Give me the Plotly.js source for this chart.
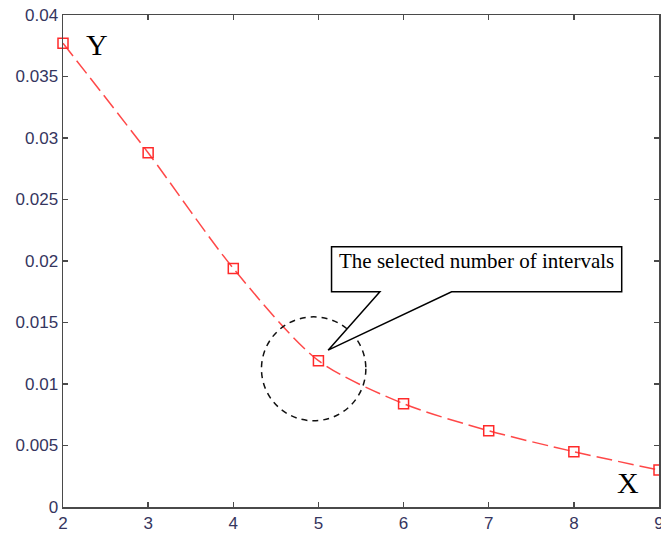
<!DOCTYPE html>
<html>
<head>
<meta charset="utf-8">
<script src="https://cdn.plot.ly/plotly-3.0.1.min.js"></script>
<style>html,body{margin:0;padding:0;background:#fff;}#chart{width:661px;height:536px;}</style>
</head>
<body>
<div id="chart"></div>
<script>
// Data
const intervals = [2, 3, 4, 5, 6, 7, 8, 9];
const values = [0.0377, 0.0288, 0.0194, 0.0119, 0.0084, 0.0062, 0.0045, 0.0030];
const yTickVals = [0, 0.005, 0.01, 0.015, 0.02, 0.025, 0.03, 0.035, 0.04];
const yTickText = ["0", "0.005", "0.01", "0.015", "0.02", "0.025", "0.03", "0.035", "0.04"];
const xTickVals = [2, 3, 4, 5, 6, 7, 8, 9];
const xTickText = ["2", "3", "4", "5", "6", "7", "8", "9"];
const calloutText = "The selected number of intervals";

const trace = {
  x: intervals, y: values, type: 'scatter', mode: 'lines+markers',
  line: {color: 'rgba(255,40,40,0.85)', width: 1.5, dash: '16px,6px', shape: 'spline', smoothing: 0.8},
  marker: {symbol: 'square-open', size: 10, color: '#ff2a2a', line: {width: 1.5, color: '#ff2a2a'}},
  cliponaxis: false,
  showlegend: false
};

const tickFont = {family: 'Liberation Sans, Arial, sans-serif', size: 17, color: '#35355e'};
const axisCommon = {
  showline: true, linecolor: '#4a4a4a', linewidth: 1.5, mirror: 'ticks',
  ticks: 'inside', ticklen: 5, tickcolor: '#4a4a4a', tickwidth: 1.3,
  showgrid: false, zeroline: false, tickfont: tickFont, fixedrange: true,
  ticklabeloverflow: 'allow'
};

const layout = {
  width: 661, height: 536,
  margin: {l: 63, r: 2, t: 15, b: 29},
  paper_bgcolor: '#ffffff', plot_bgcolor: '#ffffff',
  xaxis: Object.assign({}, axisCommon, {range: [2, 9], tickmode: 'array', tickvals: xTickVals, ticktext: xTickText}),
  yaxis: Object.assign({}, axisCommon, {range: [0, 0.04], tickmode: 'array', tickvals: yTickVals, ticktext: yTickText}),
  shapes: [
    {type: 'circle', xref: 'x', yref: 'y', x0: 4.331, x1: 5.557, y0: 0.00701, y1: 0.01546,
     line: {color: '#111', width: 1.5, dash: '6px,5px'}, layer: 'above'},
    {type: 'path', xref: 'x', yref: 'y',
     path: 'M 5.154,0.02115 L 8.562,0.02115 L 8.562,0.01749 L 6.564,0.01749 L 5.114,0.01275 L 5.722,0.01749 L 5.154,0.01749 Z',
     fillcolor: '#ffffff', line: {color: '#000', width: 1.5}, layer: 'above'}
  ],
  annotations: [
    {x: 6.858, y: 0.0200, xref: 'x', yref: 'y', text: calloutText, showarrow: false,
     xanchor: 'center', yanchor: 'middle', font: {family: 'Liberation Serif, Times New Roman, serif', size: 21, color: '#000'}},
    {x: 2.396, y: 0.0376, xref: 'x', yref: 'y', text: 'Y', showarrow: false,
     xanchor: 'center', yanchor: 'middle', font: {family: 'Liberation Serif, Times New Roman, serif', size: 30, color: '#000'}},
    {x: 8.636, y: 0.0020, xref: 'x', yref: 'y', text: 'X', showarrow: false,
     xanchor: 'center', yanchor: 'middle', font: {family: 'Liberation Serif, Times New Roman, serif', size: 30, color: '#000'}}
  ]
};

Plotly.newPlot('chart', [trace], layout, {staticPlot: true, displayModeBar: false});
</script>
</body>
</html>
